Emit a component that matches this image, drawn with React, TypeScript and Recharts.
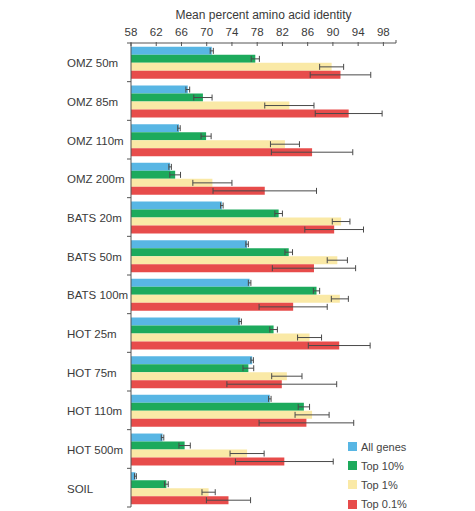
import { Bar, BarChart, ErrorBar, Label, Legend, XAxis, YAxis } from "recharts";

const categories = [
  "OMZ 50m", "OMZ 85m", "OMZ 110m", "OMZ 200m",
  "BATS 20m", "BATS 50m", "BATS 100m",
  "HOT 25m", "HOT 75m", "HOT 110m", "HOT 500m", "SOIL",
];

// mean % identity per sample, with error bar half-widths
const allGenes = [70.8, 67.0, 65.6, 64.2, 72.4, 76.4, 76.8, 75.3, 77.2, 80.0, 63.0, 58.7];
const allGenesErr = [0.25, 0.3, 0.2, 0.2, 0.2, 0.2, 0.2, 0.2, 0.2, 0.2, 0.2, 0.15];
const top10 = [77.7, 69.4, 69.9, 65.0, 81.4, 83.0, 87.4, 80.6, 76.6, 85.4, 66.5, 63.6];
const top10Err = [0.65, 1.45, 0.8, 0.85, 0.6, 0.6, 0.5, 0.6, 0.85, 0.9, 0.9, 0.3];
const top1 = [89.8, 83.1, 82.4, 70.9, 91.3, 90.7, 91.1, 86.3, 82.7, 86.7, 76.4, 70.3];
const top1Err = [1.9, 3.9, 2.3, 3.1, 1.4, 1.6, 1.35, 1.9, 2.4, 2.7, 2.7, 1.05];
const top01 = [91.2, 92.5, 86.7, 79.2, 90.2, 87.0, 83.7, 91.0, 81.9, 85.8, 82.3, 73.45];
const top01Err = [4.8, 5.3, 6.45, 8.2, 4.65, 6.6, 5.4, 4.9, 8.7, 7.5, 7.75, 3.5];

const xTicks = [58, 62, 66, 70, 74, 78, 82, 86, 90, 94, 98, 100];

const series = [
  { key: "all", err: "allErr", name: "All genes", color: "#58B6E4" },
  { key: "t10", err: "t10Err", name: "Top 10%", color: "#1DAA5C" },
  { key: "t1", err: "t1Err", name: "Top 1%", color: "#FAE9A6" },
  { key: "t01", err: "t01Err", name: "Top 0.1%", color: "#E74C4B" },
];

const data = categories.map((name, i) => ({
  name,
  all: allGenes[i], allErr: allGenesErr[i],
  t10: top10[i], t10Err: top10Err[i],
  t1: top1[i], t1Err: top1Err[i],
  t01: top01[i], t01Err: top01Err[i],
}));

const W = 475;
const H = 511;
const TOP = 43;
const BOTTOM = 4;
const LEFT = 131;
const band = (H - TOP - BOTTOM) / categories.length;
const ink = "#3a3a3a";

// x ticks point down into the plot, labels sit above the axis line
function ValueTick(props: any) {
  const { x, payload } = props;
  if (payload.value === 100) {
    return <line x1={x} x2={x} y1={TOP - 3} y2={TOP} stroke="#555" />;
  }
  return (
    <g>
      <text x={x} y={TOP - 7} fontSize={11.5} fill={ink} textAnchor="middle">
        {payload.value}
      </text>
      <line x1={x} x2={x} y1={TOP - 1} y2={TOP + 3} stroke="#555" />
    </g>
  );
}

function SampleTick(props: any) {
  const { y, payload, index } = props;
  return (
    <g>
      <text x={67} y={y + 1} dy="0.35em" fontSize={11.5} fill={ink} textAnchor="start">
        {payload.value}
      </text>
      <line x1={LEFT - 4} x2={LEFT} y1={y - band / 2} y2={y - band / 2} stroke="#555" />
      {index === categories.length - 1 && (
        <line x1={LEFT - 4} x2={LEFT} y1={y + band / 2} y2={y + band / 2} stroke="#555" />
      )}
    </g>
  );
}

function LegendBox() {
  return (
    <div>
      {series.map((s) => (
        <div key={s.key} style={{ display: "flex", alignItems: "center", height: 19.2 }}>
          <span style={{ width: 9, height: 9, background: s.color, marginRight: 4 }} />
          <span style={{ fontSize: 11, color: "#444" }}>{s.name}</span>
        </div>
      ))}
    </div>
  );
}

export default function App() {
  return (
    <div style={{ position: "absolute", left: 0, top: 0, fontFamily: "Liberation Sans, Arial, sans-serif" }}>
      <BarChart
        width={W}
        height={H}
        data={data}
        layout="vertical"
        margin={{ top: TOP - 22, right: 79, bottom: BOTTOM, left: 0 }}
        barCategoryGap="10%"
        barGap={0}
      >
        <XAxis
          type="number"
          orientation="top"
          domain={[58, 100]}
          ticks={xTicks}
          interval={0}
          allowDataOverflow
          height={22}
          tickLine={false}
          stroke="#555"
          tick={<ValueTick />}
        >
          <Label value="Mean percent amino acid identity" position="top" offset={2} fontSize={12} fill={ink} />
        </XAxis>
        <YAxis
          type="category"
          dataKey="name"
          width={LEFT}
          tickLine={false}
          stroke="#555"
          tick={<SampleTick />}
        />
        <Legend
          layout="vertical"
          align="center"
          verticalAlign="middle"
          content={<LegendBox />}
          wrapperStyle={{ position: "absolute", left: 348, top: 437, width: 110 }}
        />
        {series.map((s) => (
          <Bar key={s.key} dataKey={s.key} name={s.name} fill={s.color} isAnimationActive={false}>
            <ErrorBar dataKey={s.err} direction="x" width={3} stroke="#4a4a4a" strokeWidth={1} />
          </Bar>
        ))}
      </BarChart>
    </div>
  );
}
